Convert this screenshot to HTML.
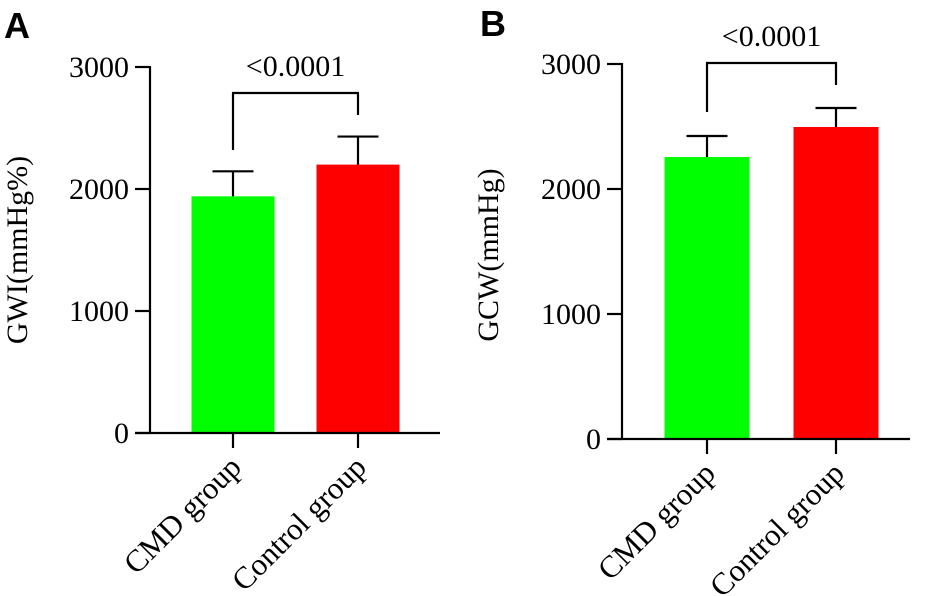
<!DOCTYPE html>
<html><head><meta charset="utf-8"><style>
html,body{margin:0;padding:0;background:#fff;}
svg{display:block;font-family:"Liberation Serif",serif;}
</style></head><body>
<svg id="c" width="925" height="596" viewBox="0 0 925 596" xmlns="http://www.w3.org/2000/svg">
<text x="4" y="38" font-family="Liberation Sans, sans-serif" font-weight="bold" font-size="36">A</text>
<text x="480" y="36" font-family="Liberation Sans, sans-serif" font-weight="bold" font-size="36">B</text>
</svg>
<script>
const categories = ["CMD group", "Control group"];
const gwiMeans = [1940, 2200];
const gwiErr = [2145, 2430];
const gcwMeans = [2256, 2496];
const gcwErr = [2424, 2648];
const yTicks = [0, 1000, 2000, 3000];
const pLabelA = "<0.0001";
const pLabelB = "<0.0001";
const colors = ["#00ff00", "#ff0000"];

const NS = "http://www.w3.org/2000/svg";
const svg = document.getElementById('c');
function mk(tag, attrs, parent, text) {
  const e = document.createElementNS(NS, tag);
  for (const k in attrs) e.setAttribute(k, attrs[k]);
  if (text !== undefined) e.textContent = text;
  (parent || svg).appendChild(e);
  return e;
}
function panel(p) {
  const g = mk('g', {});
  
  
  const y = v => p.y0 - (v / 3000) * (p.y0 - p.y3);
  const x = i => p.cx[i];
  const line = (x1, y1, x2, y2, name) => {
    const l = mk('line', {x1, y1, x2, y2, stroke: '#000', 'stroke-width': 2.2}, g);
    
    
  };
  p.means.forEach((m, i) => {
    const r = mk('rect', {x: x(i) - p.bw / 2, y: y(m), width: p.bw, height: p.y0 - y(m), fill: colors[i]}, g);
    
    
    line(x(i), y(m), x(i), y(p.err[i]), 'error-bar');
    line(x(i) - 20.5, y(p.err[i]), x(i) + 20.5, y(p.err[i]), 'error-cap');
  });
  line(p.ax, y(3000) - 1, p.ax, p.y0 + 1, 'y-axis');
  line(p.ax - 15, p.y0, p.xend, p.y0, 'x-axis');
  yTicks.forEach(t => {
    line(p.ax - 15, y(t), p.ax, y(t), 'y-tick');
    const tx = mk('text', {x: p.ax - 21, y: y(t) + 10, 'text-anchor': 'end', 'font-size': 30}, g, String(t));
    
    
  });
  categories.forEach((c, i) => {
    line(x(i), p.y0, x(i), p.y0 + 15, 'x-tick');
    const tx = mk('text', {x: x(i) + 10, y: p.y0 + 36, 'text-anchor': 'end', 'font-size': 31,
      transform: `rotate(-45 ${x(i) + 10} ${p.y0 + 36})`}, g, c);
    
    
  });
  line(x(0), p.bl, x(0), p.by, 'significance-bracket-left');
  line(x(0) - 1, p.by, x(1) + 1, p.by, 'significance-bracket-top');
  line(x(1), p.by, x(1), p.br, 'significance-bracket-right');
  const pt = mk('text', {x: (x(0) + x(1)) / 2, y: p.by - 17, 'text-anchor': 'middle', 'font-size': 30}, g, p.plabel);
  
  
  const yl = mk('text', {x: 0, y: 0, 'text-anchor': 'middle', 'font-size': 30,
    transform: `translate(${p.ylx} ${p.yly}) rotate(-90)`}, g, p.ytitle);
  
  
}
panel({name: 'panel-a-gwi', y0: 433, y3: 67, ax: 150, xend: 440, cx: [233, 358], bw: 83,
  means: gwiMeans, err: gwiErr, by: 93, bl: 150, br: 115, plabel: pLabelA,
  ytitle: 'GWI(mmHg%)', ylx: 27, yly: 250});
panel({name: 'panel-b-gcw', y0: 439, y3: 64, ax: 622, xend: 910, cx: [707, 836], bw: 85,
  means: gcwMeans, err: gcwErr, by: 63, bl: 112, br: 85, plabel: pLabelB,
  ytitle: 'GCW(mmHg)', ylx: 498, yly: 255});
</script>
</body></html>
